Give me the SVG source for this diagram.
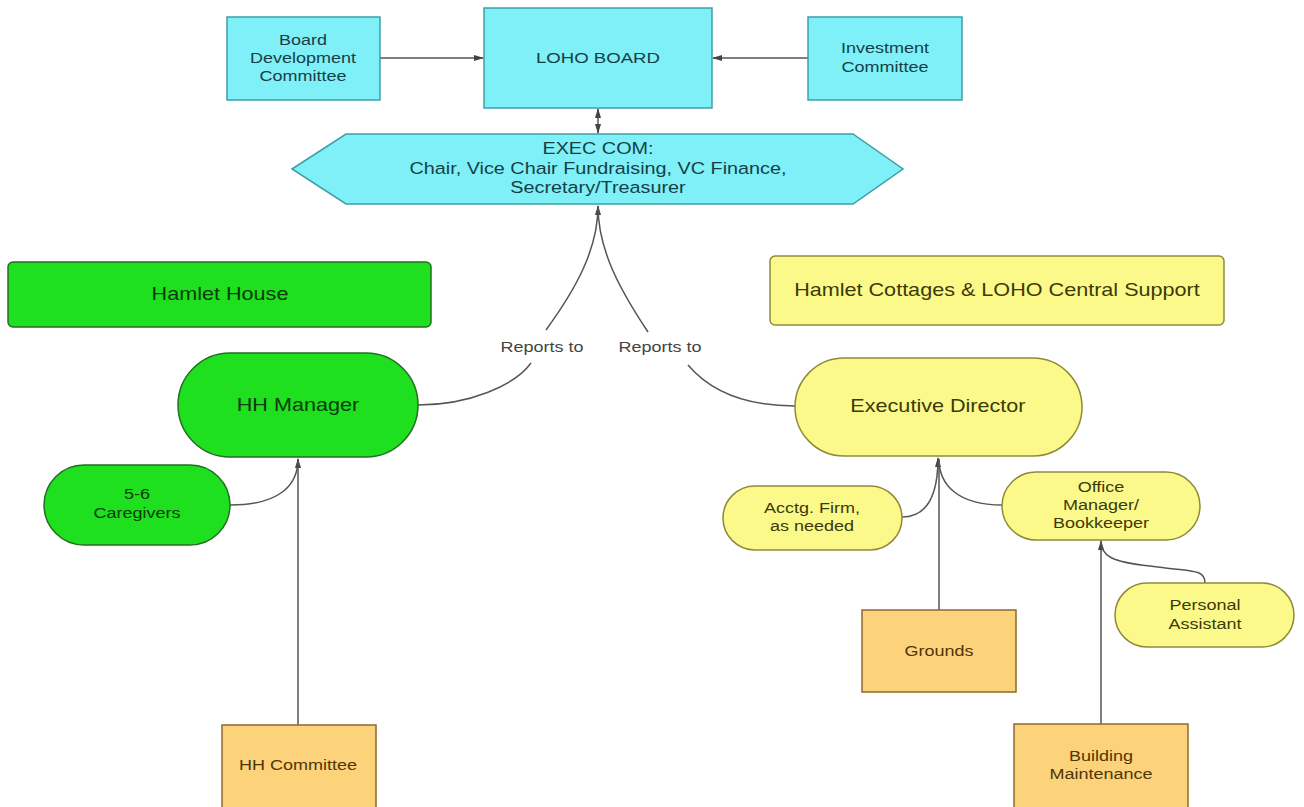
<svg xmlns="http://www.w3.org/2000/svg" width="1304" height="807" viewBox="0 0 1304 807">
<style>
text{font-family:"Liberation Sans",Arial,sans-serif;text-anchor:middle;dominant-baseline:central;transform-box:fill-box;transform-origin:center;transform:scaleX(1.2)}
.cy{fill:#7ff0f7;stroke:#3c9ea6;stroke-width:1.5}
.cyt{fill:#163f45}
.gr{fill:#1ee01e;stroke:#236f23;stroke-width:1.5}
.grt{fill:#0b3a0b}
.ye{fill:#fbf98a;stroke:#8f8a3a;stroke-width:1.5}
.yet{fill:#3b3a08}
.or{fill:#fcd27a;stroke:#8c6a32;stroke-width:1.5}
.ort{fill:#4e3608}
.ln{fill:none;stroke:#555;stroke-width:1.5}
.lbl{fill:#444;font-size:15px}
</style>
<defs>
<marker id="ah" viewBox="0 0 10 10" refX="9" refY="5" markerWidth="7" markerHeight="7" orient="auto-start-reverse"><path d="M0,2 L10,5 L0,8 z" fill="#444"/></marker>
</defs>
<rect width="1304" height="807" fill="#fff"/>
<g id="connectors">
<path class="ln" d="M380,58 L483,58" marker-end="url(#ah)"/>
<path class="ln" d="M808,58 L713,58" marker-end="url(#ah)"/>
<path class="ln" d="M598,133 L598,109" marker-end="url(#ah)" marker-start="url(#ah)"/>
<path class="ln" d="M418,405 C470,405 515,385 531,363"/>
<path class="ln" d="M546,330 C575,290 598,250 598,206" marker-end="url(#ah)"/>
<path class="ln" d="M795,406 C735,406 705,385 688,365"/>
<path class="ln" d="M648,332 C620,290 598,250 598,206"/>
<path class="ln" d="M230,505 C280,505 298,485 298,459" marker-end="url(#ah)"/>
<path class="ln" d="M298,725 L298,459"/>
<path class="ln" d="M902,517 C930,517 938,490 938,458" marker-end="url(#ah)"/>
<path class="ln" d="M939,610 L939,459"/>
<path class="ln" d="M1002,505 C958,505 939,485 939,459"/>
<path class="ln" d="M1101,724 L1101,541" marker-end="url(#ah)"/>
<path class="ln" d="M1205,583 C1205,568 1190,572 1150,566 C1110,562 1101,555 1101,541"/>
<text class="lbl" x="542" y="347">Reports to</text>
<text class="lbl" x="660" y="347">Reports to</text>
</g>
<g id="bdc"><rect class="cy" x="227" y="17" width="153" height="83"/><text class="cyt" font-size="15" x="303" y="40">Board</text><text class="cyt" font-size="15" x="303" y="58">Development</text><text class="cyt" font-size="15" x="303" y="76">Committee</text></g>
<g id="loho"><rect class="cy" x="484" y="8" width="228" height="100"/><text class="cyt" font-size="15.5" x="598" y="58">LOHO BOARD</text></g>
<g id="inv"><rect class="cy" x="808" y="17" width="154" height="83"/><text class="cyt" font-size="15" x="885" y="48">Investment</text><text class="cyt" font-size="15" x="885" y="67">Committee</text></g>
<g id="exec"><polygon class="cy" points="292,169 346,134 853,134 903,169 853,204 346,204"/><text class="cyt" font-size="16.5" x="598" y="149">EXEC COM:</text><text class="cyt" font-size="16.5" x="598" y="169">Chair, Vice Chair Fundraising, VC Finance,</text><text class="cyt" font-size="16.5" x="598" y="188">Secretary/Treasurer</text></g>
<g id="hh"><rect class="gr" x="8" y="262" width="423" height="65" rx="5"/><text class="grt" font-size="18" x="220" y="294">Hamlet House</text></g>
<g id="hc"><rect class="ye" x="770" y="256" width="454" height="69" rx="5"/><text class="yet" font-size="18" x="997" y="290">Hamlet Cottages &amp; LOHO Central Support</text></g>
<g id="hhm"><rect class="gr" x="178" y="353" width="240" height="104" rx="52"/><text class="grt" font-size="18" x="298" y="405">HH Manager</text></g>
<g id="care"><rect class="gr" x="44" y="465" width="186" height="80" rx="40"/><text class="grt" font-size="15" x="137" y="494">5-6</text><text class="grt" font-size="15" x="137" y="513">Caregivers</text></g>
<g id="hhc"><rect class="or" x="222" y="725" width="154" height="86"/><text class="ort" font-size="15" x="298" y="765">HH Committee</text></g>
<g id="ed"><rect class="ye" x="795" y="358" width="287" height="98" rx="49"/><text class="yet" font-size="18" x="938" y="406">Executive Director</text></g>
<g id="acctg"><rect class="ye" x="723" y="486" width="179" height="64" rx="32"/><text class="yet" font-size="15" x="812" y="508">Acctg. Firm,</text><text class="yet" font-size="15" x="812" y="526">as needed</text></g>
<g id="office"><rect class="ye" x="1002" y="472" width="198" height="68" rx="34"/><text class="yet" font-size="15" x="1101" y="487">Office</text><text class="yet" font-size="15" x="1101" y="505">Manager/</text><text class="yet" font-size="15" x="1101" y="523">Bookkeeper</text></g>
<g id="pa"><rect class="ye" x="1115" y="583" width="179" height="64" rx="32"/><text class="yet" font-size="15" x="1205" y="605">Personal</text><text class="yet" font-size="15" x="1205" y="624">Assistant</text></g>
<g id="grounds"><rect class="or" x="862" y="610" width="154" height="82"/><text class="ort" font-size="15" x="939" y="651">Grounds</text></g>
<g id="bm"><rect class="or" x="1014" y="724" width="174" height="87"/><text class="ort" font-size="15" x="1101" y="756">Building</text><text class="ort" font-size="15" x="1101" y="774">Maintenance</text></g>
</svg>
